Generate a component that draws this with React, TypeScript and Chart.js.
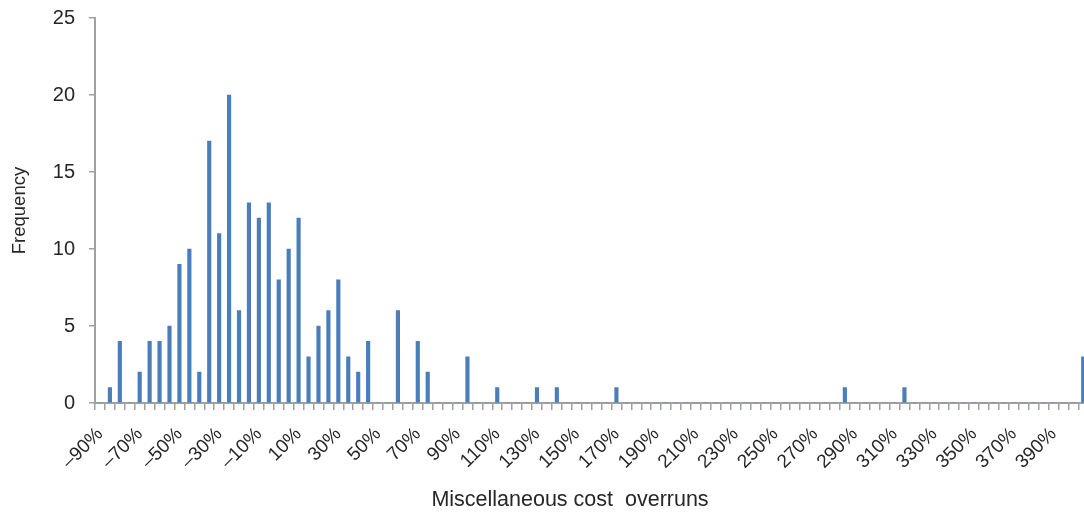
import React, { useEffect, useRef } from 'react';
import { Chart, registerables } from 'chart.js';

Chart.register(...registerables);

// Bin starts (%), 5-point bins from -90% upward
const binStarts: number[] = Array.from({ length: 100 }, (_, i) => -90 + 5 * i);
const categories: string[] = binStarts.map((v) => (v < 0 ? '\u2013' + Math.abs(v) : String(v)) + '%');

// Frequency per bin
const frequency: number[] = [
  0, 1, 4, 0, 2, 4, 4, 5, 9, 10,
  2, 17, 11, 20, 6, 13, 12, 13, 8, 10,
  12, 3, 5, 6, 8, 3, 2, 4, 0, 0,
  6, 0, 4, 2, 0, 0, 0, 3, 0, 0,
  1, 0, 0, 0, 1, 0, 1, 0, 0, 0,
  0, 0, 1, 0, 0, 0, 0, 0, 0, 0,
  0, 0, 0, 0, 0, 0, 0, 0, 0, 0,
  0, 0, 0, 0, 0, 1, 0, 0, 0, 0,
  0, 1, 0, 0, 0, 0, 0, 0, 0, 0,
  0, 0, 0, 0, 0, 0, 0, 0, 0, 3,
];

const yTicks: number[] = [0, 5, 10, 15, 20, 25];
const labelEvery = 4;
const xTitle = 'Miscellaneous cost  overruns';
const yTitle = 'Frequency';

const FONT = '"Liberation Sans", Arial, Helvetica, sans-serif';
const TEXT = '#262626';
const AXIS = '#a0a0a0';
const BAR = '#4a7ebb';

export default function App() {
  const ref = useRef<HTMLCanvasElement | null>(null);

  useEffect(() => {
    if (!ref.current) return;
    const xTitlePlugin = {
      id: 'xTitlePlugin',
      afterDraw(chart: any) {
        const ctx = chart.ctx;
        ctx.save();
        ctx.font = `21.5px ${FONT}`;
        ctx.fillStyle = TEXT;
        ctx.textAlign = 'center';
        ctx.textBaseline = 'middle';
        ctx.fillText(xTitle, 570, 500);
        ctx.restore();
      },
    };
    const chart = new Chart(ref.current, {
      type: 'bar',
      data: {
        labels: categories,
        datasets: [
          {
            label: yTitle,
            data: frequency,
            backgroundColor: BAR,
            borderWidth: 0,
            barThickness: 3.5,
          },
        ],
      },
      plugins: [xTitlePlugin],
      options: {
        animation: false,
        responsive: false,
        devicePixelRatio: 1,
        layout: { padding: { left: 0, right: 1.8, top: 18, bottom: 0 } },
        plugins: {
          legend: { display: false },
          tooltip: { enabled: false },
        },
        scales: {
          x: {
            type: 'category',
            offset: true,
            afterFit: (s: any) => {
              s.height = 113;
              s.paddingLeft = 0;
              s.paddingRight = 0;
            },
            grid: {
              drawOnChartArea: false,
              drawTicks: true,
              tickLength: 7,
              color: AXIS,
              lineWidth: 1.5,
              offset: true,
            },
            border: { display: true, color: AXIS, width: 2 },
            ticks: {
              autoSkip: false,
              minRotation: 45,
              maxRotation: 45,
              padding: 13,
              color: TEXT,
              font: { family: FONT, size: 19 },
              callback: (_v: any, i: number) => (i % labelEvery === 0 ? categories[i] : ''),
            },
          },
          y: {
            min: 0,
            max: 25,
            afterFit: (s: any) => {
              s.width = 95;
              s.paddingTop = 0;
              s.paddingBottom = 0;
            },
            afterBuildTicks: (s: any) => {
              s.ticks = yTicks.map((v) => ({ value: v }));
            },
            grid: {
              drawOnChartArea: false,
              drawTicks: true,
              tickLength: 6,
              color: AXIS,
              lineWidth: 1.5,
            },
            border: { display: true, color: AXIS, width: 2 },
            ticks: {
              padding: 14,
              color: TEXT,
              font: { family: FONT, size: 20 },
            },
            title: {
              display: true,
              text: yTitle,
              color: TEXT,
              font: { family: FONT, size: 18.5 },
              padding: { top: 9, bottom: 0 },
            },
          },
        },
      },
    });
    return () => chart.destroy();
  }, []);

  return (
    <div
      style={{
        position: 'fixed',
        left: 0,
        top: 0,
        width: 1084,
        height: 516,
        overflow: 'hidden',
        background: '#fff',
      }}
    >
      <canvas ref={ref} width={1090} height={516} style={{ display: 'block' }} />
    </div>
  );
}
